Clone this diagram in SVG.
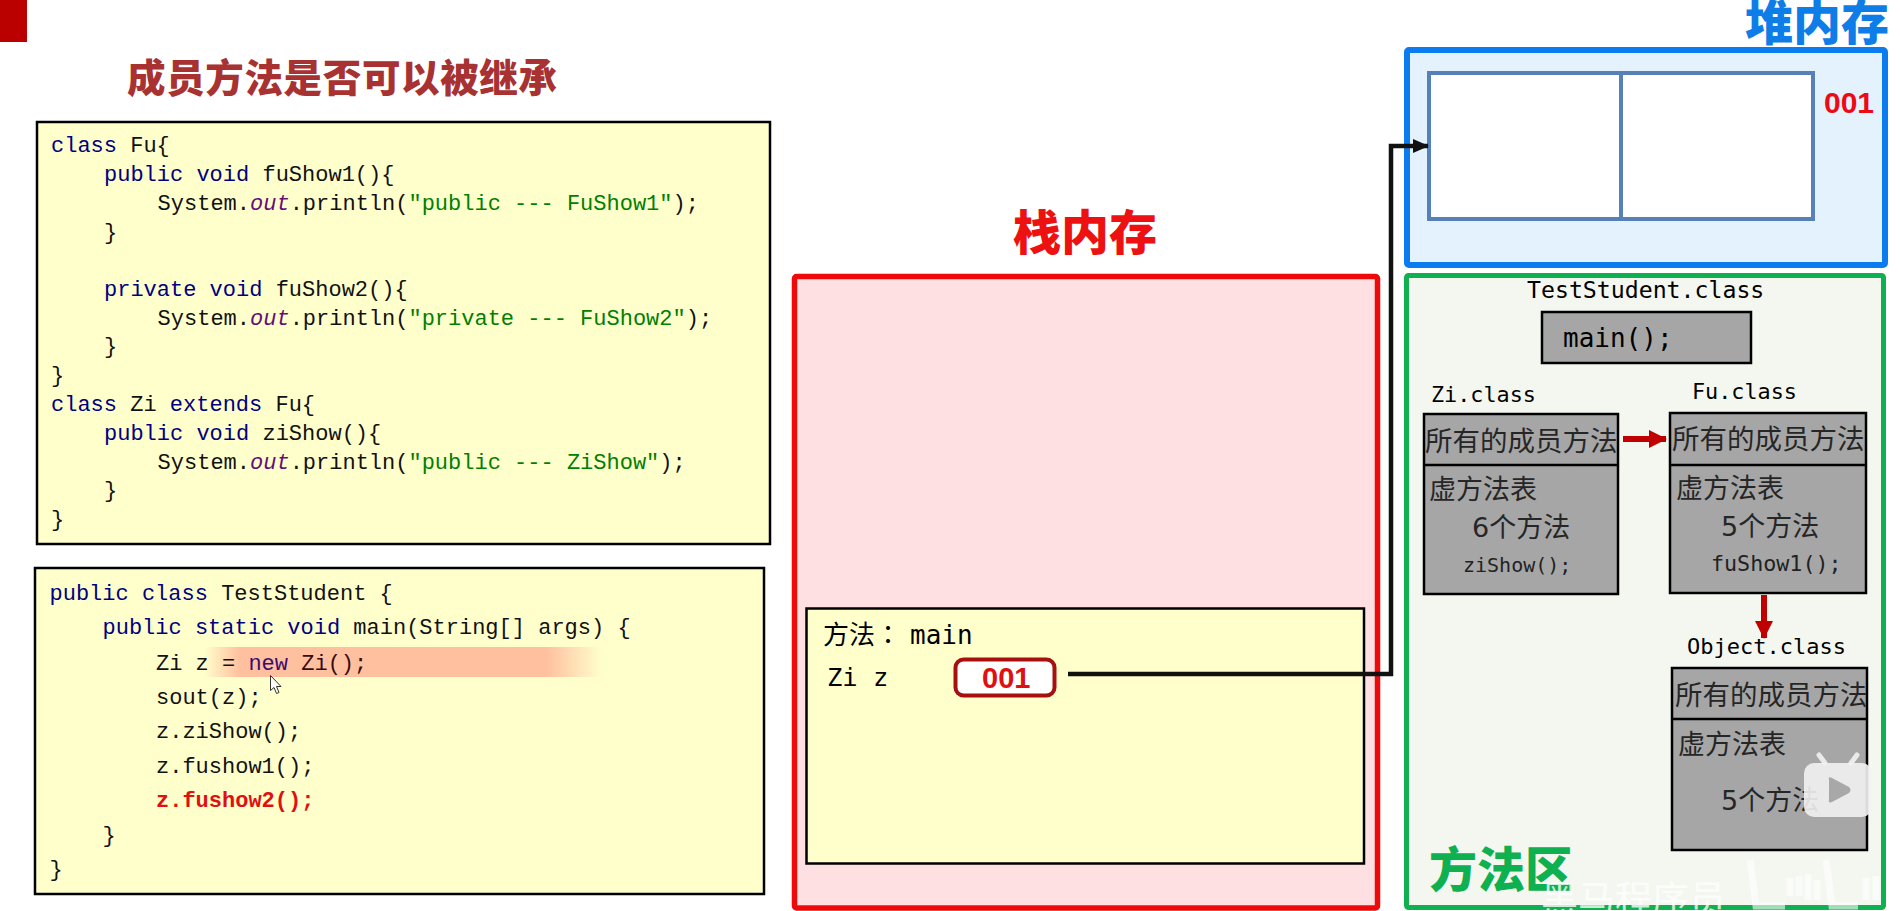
<svg xmlns="http://www.w3.org/2000/svg" width="1900" height="911" viewBox="0 0 1900 911">
<style>
text{white-space:pre}
.code{font-family:"Liberation Mono","DejaVu Sans Mono",monospace;font-size:22px;fill:#111}
.k{fill:#000080}
.o{fill:#660e7a;font-style:italic}
.s{fill:#008000}
.box{fill:#ffffcc;stroke:#000;stroke-width:2.5}
.title{font-family:"Noto Sans CJK SC","Noto Sans",sans-serif;font-weight:900}
.mono{font-family:"DejaVu Sans Mono","Liberation Mono",monospace;fill:#000}
.cjk{font-family:"Noto Sans CJK SC",sans-serif;font-size:27px;fill:#262626}
.wide{font-size:27.500px}
.num{font-family:"Liberation Sans",Arial,sans-serif;font-weight:700;font-size:29px}
.gray{fill:#a6a6a6;stroke:#000;stroke-width:2.5}
.line{stroke:#000;stroke-width:2.5}
.conn{fill:none;stroke:#111;stroke-width:4.5}
.rd{fill:none;stroke:#c00000;stroke-width:6}
</style>
<defs>
<linearGradient id="hl" x1="204" x2="602" y1="0" y2="0" gradientUnits="userSpaceOnUse">
<stop offset="0" stop-color="#ffc09f" stop-opacity="0"/>
<stop offset="0.09" stop-color="#ffc09f"/>
<stop offset="0.86" stop-color="#ffc09f"/>
<stop offset="1" stop-color="#ffc09f" stop-opacity="0"/>
</linearGradient>
<marker id="ah" markerUnits="userSpaceOnUse" markerWidth="16" markerHeight="14" refX="15" refY="7" orient="auto"><path d="M0 0L16 7L0 14Z" fill="#111"/></marker>
<marker id="ar" markerUnits="userSpaceOnUse" markerWidth="18" markerHeight="18" refX="17" refY="9" orient="auto"><path d="M0 0L18 9L0 18Z" fill="#c00000"/></marker>
</defs>
<rect width="1900" height="911" fill="#fff"/>
<rect id="corner" x="0" y="0" width="27" height="42" fill="#bb0000"/>
<text id="page-title" class="title" x="127" y="92" font-size="38.500" fill="#a83232" textLength="430">成员方法是否可以被继承</text>

<g id="code-classes">
<rect class="box" x="37" y="122" width="733" height="422"/>
<text class="code" x="51" y="151.800"><tspan class="k">class</tspan> Fu{</text>
<text class="code" x="104" y="180.500"><tspan class="k">public void</tspan> fuShow1(){</text>
<text class="code" x="157.600" y="209.500">System.<tspan class="o">out</tspan>.println(<tspan class="s">"public --- FuShow1"</tspan>);</text>
<text class="code" x="104" y="238.500">}</text>
<text class="code" x="104" y="296"><tspan class="k">private void</tspan> fuShow2(){</text>
<text class="code" x="157.600" y="324.600">System.<tspan class="o">out</tspan>.println(<tspan class="s">"private --- FuShow2"</tspan>);</text>
<text class="code" x="104" y="353.300">}</text>
<text class="code" x="51" y="382">}</text>
<text class="code" x="51" y="411"><tspan class="k">class</tspan> Zi <tspan class="k">extends</tspan> Fu{</text>
<text class="code" x="104" y="440"><tspan class="k">public void</tspan> ziShow(){</text>
<text class="code" x="157.600" y="468.500">System.<tspan class="o">out</tspan>.println(<tspan class="s">"public --- ZiShow"</tspan>);</text>
<text class="code" x="104" y="497">}</text>
<text class="code" x="51" y="526">}</text>
</g>

<g id="code-main">
<rect class="box" x="35" y="568" width="729" height="326"/>
<rect x="204" y="647" width="398" height="30" fill="url(#hl)"/>
<text class="code" x="49.500" y="600"><tspan class="k">public class</tspan> TestStudent {</text>
<text class="code" x="102.500" y="634"><tspan class="k">public static void</tspan> main(String[] args) {</text>
<text class="code" x="156" y="670">Zi z = <tspan fill="#3c0c6e">new</tspan> <tspan fill="#3a0a10">Zi();</tspan></text>
<text class="code" x="156" y="704">sout(z);</text>
<text class="code" x="156" y="738">z.ziShow();</text>
<text class="code" x="156" y="773">z.fushow1();</text>
<text class="code" x="156" y="807" style="fill:#e01010;font-weight:700">z.fushow2();</text>
<text class="code" x="102.500" y="842">}</text>
<text class="code" x="49.500" y="876">}</text>
<path id="cursor" d="M270.500 675.500V690.500L274 687.500L276.500 693.500L279 692.500L276.500 686.500L281 686.500Z" fill="#fff" stroke="#333" stroke-width="1"/>
</g>

<g id="stack">
<text class="title" x="1013" y="249.500" font-size="48" fill="#ee1111">栈内存</text>
<rect x="794.500" y="276.500" width="583" height="631.500" rx="2" fill="#fee0e2" stroke="#ee0a0a" stroke-width="5.500"/>
</g>
<g id="frame-main">
<rect class="box" x="806.500" y="608.500" width="557.500" height="255"/>
<text class="cjk" x="823" y="644" style="fill:#000;font-size:26px">方法<tspan font-family="Noto Sans CJK TC">：</tspan></text>
<text class="mono" x="910" y="644" font-size="26">main</text>
<text class="mono" x="827" y="686" font-size="25.500">Zi z</text>
</g>
<g id="ref-001">
<rect x="955.500" y="659.500" width="99" height="36" rx="8" fill="#fff" stroke="#a81010" stroke-width="4"/>
<text class="num" x="982" y="688" fill="#e01010">001</text>
</g>

<g id="heap">
<text class="title" x="1745" y="39.500" font-size="48" fill="#0f7de8">堆内存</text>
<rect x="1407" y="50" width="478" height="215" rx="2" fill="#e3f2fd" stroke="#0a7cf0" stroke-width="6"/>
<text class="num" x="1824" y="113" fill="#ee0a14" style="font-size:30px">001</text>
</g>
<g id="heap-object">
<rect x="1429" y="73" width="384" height="146" fill="#fff" stroke="#5580b8" stroke-width="4"/>
<line x1="1621" y1="73" x2="1621" y2="219" stroke="#5580b8" stroke-width="4"/>
</g>

<g id="method-area">
<rect x="1406.500" y="275.500" width="477" height="632" rx="2" fill="#f4f7f0" stroke="#0eb050" stroke-width="5"/>
<text class="title" x="1429" y="887" font-size="48" fill="#0eb050">方法区</text>
</g>
<g id="test-student">
<text class="mono" x="1527" y="298" font-size="23.200">TestStudent.class</text>
<rect class="gray" x="1542" y="312" width="209" height="51"/>
<text class="mono" x="1563" y="347" font-size="26">main();</text>
</g>
<g id="zi-class">
<text class="mono" x="1431" y="401.500" font-size="21.800">Zi.class</text>
<rect class="gray" x="1424" y="414" width="194" height="180"/>
<line class="line" x1="1424" y1="465" x2="1618" y2="465"/>
<text class="cjk wide" x="1425" y="451">所有的成员方法</text>
<text class="cjk" x="1429" y="499">虚方法表</text>
<text class="cjk" x="1472" y="537"><tspan font-family="DejaVu Sans">6</tspan>个方法</text>
<text class="mono" x="1463" y="572" font-size="20" style="fill:#222">ziShow();</text>
</g>
<g id="fu-class">
<text class="mono" x="1692" y="399" font-size="21.800">Fu.class</text>
<rect class="gray" x="1670" y="413" width="196" height="180"/>
<line class="line" x1="1670" y1="465" x2="1866" y2="465"/>
<text class="cjk wide" x="1672" y="449">所有的成员方法</text>
<text class="cjk" x="1676" y="498">虚方法表</text>
<text class="cjk" x="1721" y="536"><tspan font-family="DejaVu Sans">5</tspan>个方法</text>
<text class="mono" x="1711" y="571" font-size="21.700" style="fill:#222">fuShow1();</text>
</g>
<g id="object-class">
<text class="mono" x="1687" y="654" font-size="22">Object.class</text>
<rect class="gray" x="1672" y="668" width="195" height="182"/>
<line class="line" x1="1672" y1="719" x2="1867" y2="719"/>
<text class="cjk wide" x="1675" y="705">所有的成员方法</text>
<text class="cjk" x="1678" y="754">虚方法表</text>
<text class="cjk" x="1721" y="810"><tspan font-family="DejaVu Sans">5</tspan>个方法</text>
</g>

<g id="connectors">
<path class="conn" d="M1068 674H1391V146H1428" marker-end="url(#ah)"/>
<path class="rd" d="M1623 439H1666" marker-end="url(#ar)"/>
<path class="rd" d="M1764 595V638" marker-end="url(#ar)"/>
</g>

<g id="video-overlay">
<path d="M1825 763L1819 755M1851 763L1857 755" stroke="#f2f2f2" stroke-width="5" stroke-linecap="round" opacity="0.9"/>
<rect x="1804" y="763" width="68" height="54" rx="10" fill="#f2f2f2" fill-opacity="0.9"/>
<path d="M1829 780Q1828 776 1832 778L1849 787Q1852 790 1849 793L1832 802Q1828 804 1829 799Z" fill="#a8a8a8"/>
<text x="1541" y="913" font-family="Noto Sans CJK SC,sans-serif" font-size="37" fill="#fff" fill-opacity="0.78">黑马程序员</text>
<path d="M1750 860L1756 906H1785M1790 878V896M1799 876V896M1808 874V900M1817 880V900M1826 860L1832 906H1858M1866 878V900M1876 876V900" fill="none" stroke="#fff" stroke-opacity="0.6" stroke-width="7"/>
</g>
</svg>
